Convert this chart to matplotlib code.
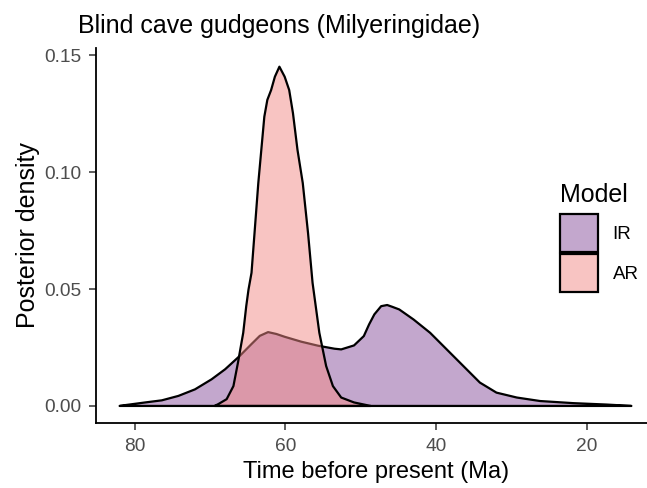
import matplotlib
matplotlib.use("Agg")
from matplotlib import pyplot as plt
from matplotlib.colors import to_rgba
from matplotlib.patches import Patch

plt.rcParams["font.family"] = ["Liberation Sans", "DejaVu Sans"]

# posterior densities of the crown age, read as (age in Ma, density)
ir_age = [82.0, 81.4, 78.6, 76.4, 74.2, 72.0, 69.8, 68.0, 66.1, 64.5, 63.4,
          62.3, 61.2, 60.1, 57.9, 55.7, 53.5, 52.6, 50.9, 49.6, 48.9, 48.2,
          47.3, 46.5, 45.8, 44.9, 43.0, 40.8, 38.6, 36.4, 34.2, 32.0, 29.3,
          26.2, 21.8, 17.4, 14.1]
ir_density = [0.0, 0.0003, 0.0015, 0.0024, 0.0043, 0.0071, 0.0114, 0.0157,
              0.0213, 0.0265, 0.0300, 0.0316, 0.0308, 0.0296, 0.0275, 0.0258,
              0.0245, 0.0242, 0.0259, 0.0299, 0.0349, 0.0392, 0.0427, 0.0432,
              0.0424, 0.0413, 0.0370, 0.0313, 0.0242, 0.0171, 0.0100, 0.0057,
              0.0036, 0.0021, 0.0012, 0.0006, 0.0]

ar_age = [69.4, 68.9, 67.8, 66.9, 66.3, 65.6, 65.2, 64.9, 64.5, 64.1, 63.6,
          63.2, 62.8, 62.4, 61.9, 61.4, 60.8, 60.1, 59.5, 59.0, 58.4, 57.7,
          57.0, 56.4, 55.5, 54.6, 53.7, 52.6, 50.9, 48.7]
ar_density = [0.0, 0.0008, 0.0029, 0.0085, 0.0185, 0.0313, 0.0427, 0.0498,
              0.0570, 0.0740, 0.0954, 0.1096, 0.1238, 0.1310, 0.1352, 0.1409,
              0.1452, 0.1409, 0.1352, 0.1253, 0.1096, 0.0954, 0.0740, 0.0527,
              0.0313, 0.0171, 0.0085, 0.0036, 0.0015, 0.0]

models = ["IR", "AR"]
colors = {"IR": "#89519D", "AR": "#F38B87"}
x_ticks = [80, 60, 40, 20]
y_ticks = [0.00, 0.05, 0.10, 0.15]

fig = plt.figure(figsize=(6.47, 4.88), dpi=100)
ax = fig.add_axes([95.5 / 647, 65 / 488, 561.5 / 647, 375 / 488])

for name, age, dens in [("IR", ir_age, ir_density), ("AR", ar_age, ar_density)]:
    ax.fill(age, dens, facecolor=to_rgba(colors[name], 0.5),
            edgecolor="black", lw=1.6, joinstyle="round")

ax.set_xlim(85.2, 10.7)
ax.set_ylim(-0.0073, 0.1532)
ax.set_xticks(x_ticks)
ax.set_yticks(y_ticks)
ax.set_yticklabels([f"{v:.2f}" for v in y_ticks])
ax.tick_params(labelsize=13.8, labelcolor="#4D4D4D", color="#333333",
               length=5, width=1.1)
ax.tick_params(axis="x", pad=5.5)
ax.tick_params(axis="y", pad=5)
for side in ["top", "right"]:
    ax.spines[side].set_visible(False)
for side in ["left", "bottom"]:
    ax.spines[side].set_linewidth(1.3)

ax.set_xlabel("Time before present (Ma)", fontsize=17, labelpad=4.5)
ax.set_ylabel("Posterior density", fontsize=18, labelpad=3)
fig.text(78 / 647, 1 - 33 / 488, "Blind cave gudgeons (Milyeringidae)",
         fontsize=18, ha="left", va="baseline")

# legend title set apart so the gap above the keys can be wider
fig.text(560 / 647, 1 - 201.5 / 488, "Model", fontsize=18,
         ha="left", va="baseline")
handles = [Patch(facecolor=to_rgba(colors[m], 0.5), edgecolor="black", lw=1.6)
           for m in models]
leg = fig.legend(handles, models, loc="upper left",
                 bbox_to_anchor=(560 / 647, 1 - 214 / 488), frameon=False,
                 fontsize=13.5, handlelength=2.05, handleheight=2.75,
                 labelspacing=0.1, handletextpad=0.75, borderpad=0,
                 borderaxespad=0)

fig.savefig("out.png", dpi=100)
